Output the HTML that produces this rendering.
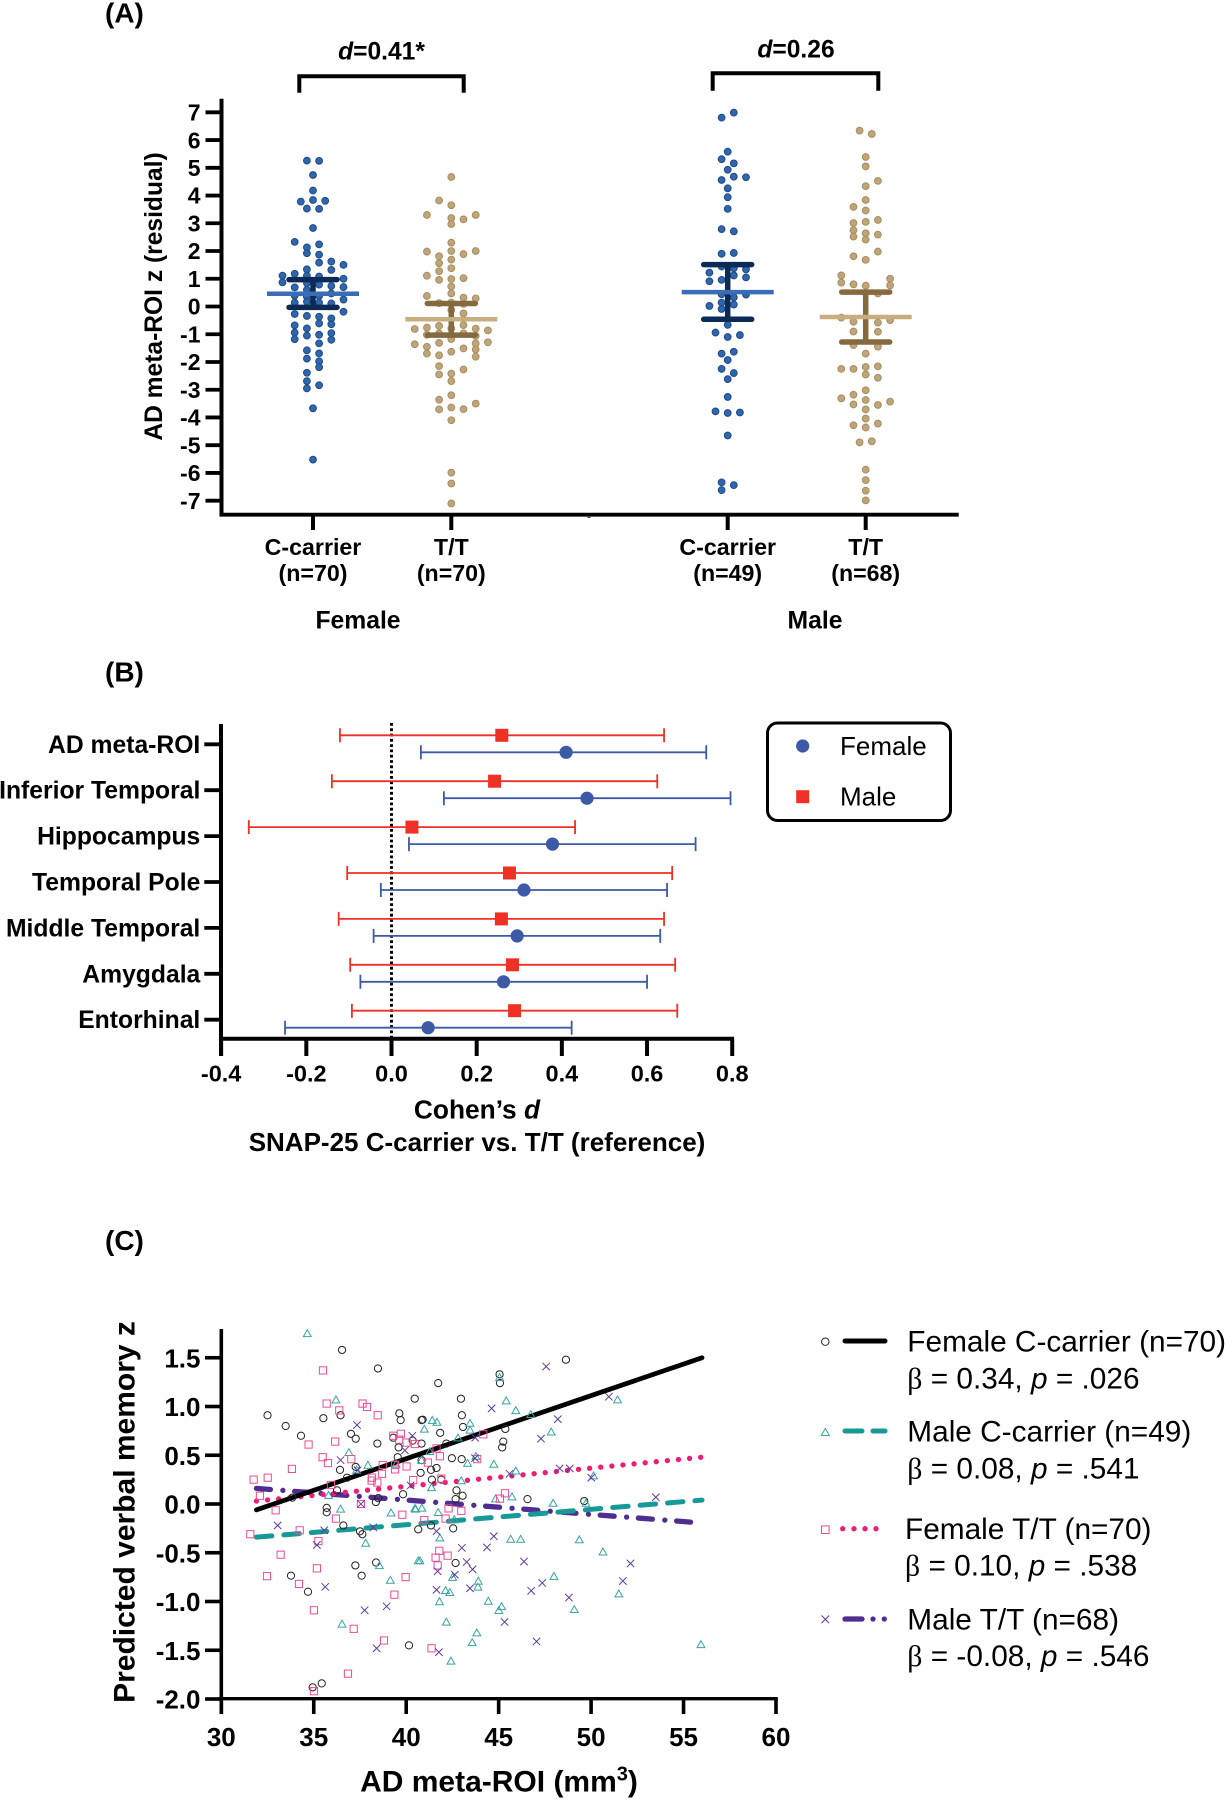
<!DOCTYPE html>
<html lang="en">
<head>
<meta charset="utf-8">
<title>SNAP-25 AD meta-ROI figure</title>
<style>
html,body{margin:0;padding:0;background:#fff;}
svg{display:block;font-family:"Liberation Sans",sans-serif;}
text{fill:#000;}
.b{font-weight:bold;}
</style>
</head>
<body>
<svg id="figure" xmlns="http://www.w3.org/2000/svg" width="1225" height="1800" viewBox="0 0 1225 1800">
  <rect width="1225" height="1800" fill="#fff"/>

  <g id="panelA"></g>
  <g id="panelB"></g>
  <g id="panelC"></g>

  <text class="b" x="105" y="22.5" font-size="28">(A)</text>
  <text class="b" x="105" y="681.5" font-size="28">(B)</text>
  <text class="b" x="105" y="1250" font-size="28">(C)</text>

  <text class="b" x="381.5" y="59.5" font-size="24.6" text-anchor="middle"><tspan font-style="italic">d</tspan>=0.41*</text>
  <text class="b" x="796" y="57.5" font-size="24.6" text-anchor="middle"><tspan font-style="italic">d</tspan>=0.26</text>
  <path d="M299.3 92.7V76.3H463.7V92.7" fill="none" stroke="#000" stroke-width="4"/>
  <path d="M712.7 90.7V73.3H878.3V90.7" fill="none" stroke="#000" stroke-width="4"/>
  <text class="b" transform="translate(162,296.5) rotate(-90)" font-size="24.6" text-anchor="middle">AD meta-ROI z (residual)</text>
  <text class="b" x="358" y="628.5" font-size="24.7" text-anchor="middle">Female</text>
  <text class="b" x="815" y="628.5" font-size="24.7" text-anchor="middle">Male</text>

  <text class="b" x="477" y="1118.5" font-size="26.3" text-anchor="middle">Cohen’s <tspan font-style="italic">d</tspan></text>
  <text class="b" x="477" y="1151" font-size="26" text-anchor="middle">SNAP-25 C-carrier vs. T/T (reference)</text>

  <g>
    <rect x="767.5" y="723" width="183" height="97.5" rx="10" ry="10" fill="#fff" stroke="#000" stroke-width="3"/>
    <circle cx="802.7" cy="746" r="6.6" fill="#3c5aa6"/>
    <rect x="796.2" y="790.2" width="13" height="13" fill="#ee3124"/>
    <text x="840" y="755" font-size="26">Female</text>
    <text x="840" y="805.5" font-size="26">Male</text>
  </g>

  <text class="b" transform="translate(134.5,1512) rotate(-90)" font-size="30" text-anchor="middle">Predicted verbal memory z</text>
  <text class="b" x="499" y="1791.5" font-size="30" text-anchor="middle">AD meta-ROI (mm<tspan font-size="20" dy="-11">3</tspan><tspan dy="11">)</tspan></text>

  <g>
    <circle cx="825.3" cy="1341.7" r="3.7" fill="none" stroke="#222" stroke-width="1"/>
    <path d="M845 1341H885" stroke="#000" stroke-width="5" stroke-linecap="round"/>
    <text x="907.3" y="1351.5" font-size="29.8">Female C-carrier (n=70)</text>
    <text x="907.3" y="1388.3" font-size="29.8"><tspan font-family="Liberation Serif">β</tspan> = 0.34, <tspan font-style="italic">p</tspan> = .026</text>

    <path d="M825.3 1428.5L829.3 1435.5H821.3Z" fill="none" stroke="#3aa3a3" stroke-width="1"/>
    <path d="M845 1431H862M873 1431H885" stroke="#179a97" stroke-width="5" stroke-linecap="round"/>
    <text x="907.3" y="1441.7" font-size="29.8">Male C-carrier (n=49)</text>
    <text x="907.3" y="1478.3" font-size="29.8"><tspan font-family="Liberation Serif">β</tspan> = 0.08, <tspan font-style="italic">p</tspan> = .541</text>

    <rect x="821.5" y="1525.9" width="7.6" height="7.6" fill="none" stroke="#ec4b94" stroke-width="1"/>
    <path d="M842.7 1528.7h.01M854 1528.7h.01M865 1528.7h.01M876 1528.7h.01" stroke="#ee1c74" stroke-width="5.3" stroke-linecap="round"/>
    <text x="905" y="1539" font-size="29.8">Female T/T (n=70)</text>
    <text x="905" y="1575.7" font-size="29.8"><tspan font-family="Liberation Serif">β</tspan> = 0.10, <tspan font-style="italic">p</tspan> = .538</text>

    <path d="M821.5 1615.5l7.6 7.6m0 -7.6l-7.6 7.6" fill="none" stroke="#5f3a9f" stroke-width="1"/>
    <path d="M845 1619H862M873 1619h.01M884.3 1619h.01" stroke="#4f2d91" stroke-width="5.3" stroke-linecap="round"/>
    <text x="907.3" y="1629.3" font-size="29.8">Male T/T (n=68)</text>
    <text x="907.3" y="1666" font-size="29.8"><tspan font-family="Liberation Serif">β</tspan> = -0.08, <tspan font-style="italic">p</tspan> = .546</text>
  </g>
</svg>

<script>
/* ---------- Panel A data ---------- */
const panelATicks = [7,6,5,4,3,2,1,0,-1,-2,-3,-4,-5,-6,-7];
const groupNames = ["C-carrier","T/T","C-carrier","T/T"];
const groupCounts = ["(n=70)","(n=70)","(n=49)","(n=68)"];
const groupMeans = [0.46,-0.46,0.52,-0.38];
const groupCiHigh = [0.97,0.11,1.51,0.52];
const groupCiLow = [-0.03,-1.03,-0.46,-1.28];

const femaleCarrierValues = [5.26,5.25,4.74,4.18,3.78,3.84,3.81,3.53,3.52,2.83,2.33,2.24,2.13,1.92,1.87,1.62,1.50,1.58,1.34,1.32,1.18,1.11,1.11,1.08,1.00,0.87,0.84,0.79,0.69,0.74,0.70,0.47,0.60,0.39,0.35,0.38,0.25,0.17,0.14,0.11,0.14,-0.19,-0.27,-0.34,-0.37,-0.43,-0.61,-0.64,-0.68,-0.79,-0.94,-0.96,-1.05,-1.02,-1.18,-1.20,-1.33,-1.58,-1.69,-1.88,-1.98,-2.19,-2.39,-2.69,-2.95,-2.84,-3.67,-5.52];
const femaleCarrierColumns = [-1,1,0,0,-2,0,2,-1,1,0,-3,1,-1,-1,1,3,5,1,-1,3,-3,-1,-5,1,5,-5,-1,1,-3,3,5,3,-1,-3,-1,1,5,-1,1,3,-3,5,-3,-1,1,3,1,3,-3,-1,-3,3,-1,1,-3,3,1,-1,1,-1,1,1,-1,-1,-1,1,0,0];

const femaleTtValues = [4.67,3.82,3.65,3.30,3.30,3.19,3.14,2.97,2.30,1.98,2.00,2.00,1.89,1.81,1.69,1.56,1.38,1.27,1.11,1.02,0.99,0.96,0.72,0.47,0.38,0.32,0.29,0.14,0.09,0.12,-0.25,-0.13,-0.70,-0.76,-0.67,-0.80,-0.81,-0.86,-0.79,-1.02,-0.97,-0.97,-1.06,-1.17,-1.31,-1.33,-1.29,-1.36,-1.45,-1.51,-1.55,-1.63,-1.70,-1.76,-1.81,-2.15,-2.27,-2.45,-2.42,-2.69,-3.20,-3.36,-3.50,-3.64,-3.71,-3.70,-4.10,-5.99,-6.38,-7.10];
const femaleTtColumns = [0,-2,0,-4,4,0,2,0,0,-4,0,4,2,-2,0,-2,0,-2,-4,2,0,-2,0,0,-4,2,4,0,2,-2,2,0,-2,-4,2,4,-6,6,0,-4,-2,2,4,0,-2,4,6,-6,-4,2,4,0,-4,-2,4,-2,2,-2,0,0,0,-2,4,0,-2,2,0,0,0,0];

const maleCarrierValues = [6.99,6.81,5.58,5.31,5.16,4.93,4.68,4.66,4.56,4.26,3.94,3.52,2.79,2.71,1.90,1.93,1.44,1.38,1.34,1.22,1.12,1.05,0.91,0.96,0.44,0.33,0.43,0.14,-0.09,0.07,0.02,-0.66,-0.94,-1.03,-1.10,-1.63,-1.70,-1.93,-2.25,-2.40,-2.62,-3.26,-3.78,-3.84,-3.82,-4.65,-6.34,-6.44,-6.62];
const maleCarrierColumns = [1,-1,0,-1,1,0,1,3,-1,0,0,0,-1,1,-1,1,-1,1,3,-3,1,3,-3,-1,-1,1,3,-1,-1,1,-3,0,-2,2,0,1,-1,0,-1,1,0,0,-2,0,2,0,-1,1,-1];

const maleTtValues = [6.34,6.22,5.39,5.05,4.53,4.34,3.84,3.59,3.46,3.12,3.05,3.01,2.75,2.64,2.59,2.52,2.41,1.98,1.81,1.68,1.12,1.00,0.86,0.76,0.80,0.75,0.47,-0.40,-0.49,-0.55,-0.58,-0.90,-0.91,-1.39,-1.45,-1.70,-2.16,-2.25,-2.25,-2.18,-2.45,-2.57,-3.02,-3.18,-3.31,-3.37,-3.43,-3.53,-3.55,-3.71,-4.04,-4.28,-4.22,-4.36,-4.90,-4.86,-5.88,-6.26,-6.64,-6.99];
const maleTtColumns = [-1,1,0,0,2,0,0,-2,0,2,0,-2,-2,0,2,-2,0,2,-2,0,-4,4,-4,4,-2,0,2,-4,4,-2,2,-2,2,-2,2,0,2,-4,-2,0,0,2,0,-2,-4,0,4,-2,2,0,0,-2,2,0,-1,1,0,0,0,0];

/* ---------- Panel B data ---------- */
const regionNames = ["AD meta-ROI","Inferior Temporal","Hippocampus","Temporal Pole","Middle Temporal","Amygdala","Entorhinal"];
const panelBTicks = [-0.4,-0.2,0,0.2,0.4,0.6,0.8];
const maleEffect = [0.259,0.242,0.048,0.277,0.258,0.284,0.289];
const maleLow = [-0.121,-0.140,-0.335,-0.104,-0.124,-0.097,-0.093];
const maleHigh = [0.640,0.624,0.431,0.659,0.640,0.666,0.671];
const femaleEffect = [0.410,0.459,0.378,0.311,0.295,0.263,0.086];
const femaleLow = [0.069,0.123,0.041,-0.025,-0.042,-0.073,-0.250];
const femaleHigh = [0.739,0.796,0.714,0.647,0.631,0.600,0.423];

/* ---------- Panel C data ---------- */
const panelCYTicks = [1.5,1,0.5,0,-0.5,-1,-1.5,-2];
const panelCXTicks = [30,35,40,45,50,55,60];

const femaleCarrierRoi = [32.5,33.48,34.31,36.53,38.47,35.52,36.45,37.01,37.27,38.44,40.46,39.63,39.70,40.83,39.30,40.35,39.59,39.54,40.83,40.78,37.27,36.42,36.80,36.26,39.83,33.84,38.36,38.49,35.70,35.70,36.60,37.50,37.63,40.65,37.25,38.37,37.59,33.77,34.69,40.15,35.43,34.94,48.64,45.05,45.07,41.73,42.96,43.01,40.89,43.07,45.36,41.84,42.17,45.25,45.19,42.47,43.00,40.83,41.64,41.34,41.39,41.90,42.72,43.05,42.67,46.56,49.63,41.34,42.54,42.67];
const femaleCarrierMemory = [0.91,0.80,0.70,1.58,1.39,0.88,0.91,0.72,0.67,0.62,1.08,0.93,0.86,0.86,0.68,0.65,0.58,0.48,0.62,0.32,0.38,0.35,0.27,0.14,0.10,0.065,0.02,0.06,-0.04,-0.085,-0.22,-0.28,-0.31,-0.26,-0.63,-0.60,-0.735,-0.735,-0.90,-1.45,-1.84,-1.88,1.48,1.33,1.24,1.24,1.08,0.91,0.865,0.79,0.77,0.73,0.62,0.64,0.58,0.47,0.46,0.45,0.37,0.35,0.25,0.25,0.14,0.085,0.05,0.05,0.03,-0.22,-0.25,-0.605];

const femaleTtRoi = [35.50,35.70,36.38,37.64,37.88,38.46,34.72,36.16,35.48,35.77,37.03,33.82,32.51,31.75,39.30,39.71,39.62,40.02,40.47,38.73,39.40,39.40,40.02,38.69,38.15,38.13,38.44,40.38,35.93,32.09,37.55,32.94,31.57,34.24,36.20,39.79,35.25,33.21,35.17,32.47,34.20,39.97,39.36,35.01,37.16,38.80,36.85,35.01,44.17,41.64,41.82,41.17,41.90,43.84,45.34,45.07,42.29,42.98,40.98,42.13,41.79,42.24,41.59,41.70,41.37];
const femaleTtMemory = [1.37,1.03,0.96,1.03,0.995,0.91,0.61,0.64,0.48,0.42,0.46,0.36,0.27,0.25,0.70,0.72,0.66,0.63,0.615,0.40,0.40,0.355,0.385,0.31,0.27,0.24,0.22,0.245,0.195,0.085,0.0,-0.065,-0.31,-0.27,-0.15,-0.11,-0.38,-0.52,-0.66,-0.74,-0.82,-0.75,-0.93,-1.09,-1.28,-1.40,-1.74,-1.92,0.715,0.57,0.49,0.425,0.26,0.46,0.11,0.055,-0.045,-0.07,-0.165,-0.15,-0.48,-0.53,-0.55,-0.63,-1.48];

const maleCarrierRoi = [34.65,36.20,36.90,37.93,37.32,39.45,35.80,36.45,39.18,40.51,37.81,38.55,39.14,36.53,40.65,45.05,45.41,45.93,46.74,41.41,41.66,43.45,40.98,43.45,42.80,47.84,51.43,41.28,43.77,40.83,43.32,44.74,45.93,50.13,42.98,41.37,45.72,44.83,47.95,49.72,40.47,40.85,41.73,42.60,41.82,45.65,46.19,49.36,50.64,40.74,47.99,42.51,43.90,43.88,42.13,42.36,51.50,41.80,44.44,45.16,45.01,49.09,42.17,43.82,43.57,55.94,42.42];
const maleCarrierMemory = [1.75,1.07,0.53,0.40,0.35,0.41,0.09,-0.05,-0.09,-0.05,-0.40,-0.63,-0.78,-1.23,-0.58,1.30,1.06,0.96,0.92,0.86,0.84,0.83,0.77,0.76,0.68,0.74,1.07,0.54,0.49,0.45,0.42,0.41,0.34,0.29,0.24,0.17,0.075,0.055,0.01,0.01,-0.045,-0.04,-0.085,-0.16,-0.345,-0.36,-0.36,-0.365,-0.49,-0.58,-0.74,-0.75,-0.79,-0.85,-0.885,-0.905,-0.92,-1.0,-0.995,-1.05,-1.09,-1.08,-1.21,-1.32,-1.42,-1.44,-1.61];

const maleTtRoi = [37.34,36.45,40.33,39.93,37.37,40.24,37.55,33.05,35.57,35.17,38.22,35.62,37.75,38.94,38.40,47.57,50.96,44.62,48.20,47.29,43.73,43.72,45.59,48.30,48.85,50.01,53.50,41.64,44.74,43.01,44.37,46.37,52.13,43.27,43.59,42.63,41.70,47.36,51.72,41.64,43.45,46.76,48.80,45.32,47.05,41.77];
const maleTtMemory = [0.81,0.45,0.70,0.55,0.345,0.19,0.0,-0.22,-0.27,-0.42,-0.24,-0.85,-1.09,-1.05,-1.48,1.41,1.10,0.98,0.87,0.67,0.68,0.47,0.31,0.365,0.365,0.27,0.07,-0.28,-0.33,-0.45,-0.445,-0.59,-0.61,-0.595,-0.67,-0.725,-0.69,-0.81,-0.79,-0.88,-0.865,-0.89,-0.96,-1.21,-1.41,-1.52];

/* Regression endpoints: [x start, x end] and [y start, y end] */
const fitRoi = [31.9,56];
const fitFemaleCarrier = [-0.06,1.50];
const fitMaleCarrier = [-0.34,0.04];
const fitFemaleTt = [0.03,0.48];
const fitMaleTt = [0.16,-0.195];

/* ---------- helpers ---------- */
const NS = "http://www.w3.org/2000/svg";
function mk(parent, tag, attrs, txt) {
  const el = document.createElementNS(NS, tag);
  for (const k in attrs) el.setAttribute(k, attrs[k]);
  if (txt !== undefined) el.textContent = txt;
  parent.appendChild(el);
  return el;
}
const fmt1 = v => v.toFixed(1);

/* ---------- Panel A ---------- */
const A = document.getElementById("panelA");
const yA = v => 306.5 - 27.74 * v;
const groupCenters = [313, 451.3, 727.7, 865.7];
const COLUMN_STEP = 6.1;
const swarmStyles = [
  {fill:"#2f66ae", stroke:"#1f4a85", mean:"#3a6db5", ci:"#0b2a55"},
  {fill:"#bfa578", stroke:"#a58e63", mean:"#c8ad7f", ci:"#85693f"},
  {fill:"#2f66ae", stroke:"#1f4a85", mean:"#3a6db5", ci:"#0b2a55"},
  {fill:"#bfa578", stroke:"#a58e63", mean:"#c8ad7f", ci:"#85693f"}
];
const swarmValues = [femaleCarrierValues, femaleTtValues, maleCarrierValues, maleTtValues];
const swarmColumns = [femaleCarrierColumns, femaleTtColumns, maleCarrierColumns, maleTtColumns];

swarmValues.forEach((vals, g) => {
  vals.forEach((v, i) => {
    const dot = mk(A, "circle", {cx: groupCenters[g] + swarmColumns[g][i] * COLUMN_STEP, cy: yA(v), r: 3.4, fill: swarmStyles[g].fill, stroke: swarmStyles[g].stroke, "stroke-width": 1});
    
    
  });
  const cx = groupCenters[g];
  const st = swarmStyles[g];
  const stem = mk(A, "line", {x1: cx, x2: cx, y1: yA(groupCiHigh[g]), y2: yA(groupCiLow[g]), stroke: st.ci, "stroke-width": 5.5});
  
  
  const capHi = mk(A, "line", {x1: cx - 24, x2: cx + 24, y1: yA(groupCiHigh[g]), y2: yA(groupCiHigh[g]), stroke: st.ci, "stroke-width": 5.5, "stroke-linecap": "round"});
  
  
  const capLo = mk(A, "line", {x1: cx - 24, x2: cx + 24, y1: yA(groupCiLow[g]), y2: yA(groupCiLow[g]), stroke: st.ci, "stroke-width": 5.5, "stroke-linecap": "round"});
  
  
  const meanBar = mk(A, "line", {x1: cx - 46, x2: cx + 46, y1: yA(groupMeans[g]), y2: yA(groupMeans[g]), stroke: st.mean, "stroke-width": 4.5});
  
  

  const tick = mk(A, "line", {x1: cx, x2: cx, y1: 514.7, y2: 530, stroke: "#000", "stroke-width": 4});
  
  
  const lab1 = mk(A, "text", {x: cx, y: 555, "font-size": 23.2, "font-weight": "bold", "text-anchor": "middle"}, groupNames[g]);
  
  
  const lab2 = mk(A, "text", {x: cx, y: 581, "font-size": 23.2, "font-weight": "bold", "text-anchor": "middle"}, groupCounts[g]);
  
  
});

panelATicks.forEach(t => {
  const tick = mk(A, "line", {x1: 205.5, x2: 222, y1: yA(t), y2: yA(t), stroke: "#000", "stroke-width": 3.8});
  
  
  const lab = mk(A, "text", {x: 200.5, y: yA(t) + 8.2, "font-size": 23, "font-weight": "bold", "text-anchor": "end"}, String(t));
  
  
});
const yAxisA = mk(A, "line", {x1: 221.5, x2: 221.5, y1: 98.7, y2: 516.5, stroke: "#000", "stroke-width": 4});


const xAxisA = mk(A, "line", {x1: 219.5, x2: 958.7, y1: 514.7, y2: 514.7, stroke: "#000", "stroke-width": 3.8});


const axisGap = mk(A, "line", {x1: 589, x2: 589, y1: 516, y2: 518, stroke: "#444", "stroke-width": 3});



/* ---------- Panel B ---------- */
const B = document.getElementById("panelB");
const xB = v => 391.5 + 425.9 * v;
const rowY = i => 744.3 + 45.9 * i;
const MALE_OFFSET = -9;
const FEMALE_OFFSET = 8;

const zeroLine = mk(B, "line", {x1: xB(0), x2: xB(0), y1: 723, y2: 1037, stroke: "#000", "stroke-width": 3, "stroke-dasharray": "2.8 2.5"});



function forestRow(lo, hi, pt, y, color, isMale) {
  const seg = mk(B, "path", {d: "M" + xB(lo) + " " + (y - 7) + "v14M" + xB(lo) + " " + y + "H" + xB(hi) + "M" + xB(hi) + " " + (y - 7) + "v14", fill: "none", stroke: color, "stroke-width": 1.8});
  
  
  if (isMale) {
    const m = mk(B, "rect", {x: xB(pt) - 6.5, y: y - 6.5, width: 13, height: 13, fill: color});
    
    
  } else {
    const m = mk(B, "circle", {cx: xB(pt), cy: y, r: 6.6, fill: color});
    
    
  }
}
regionNames.forEach((name, i) => {
  forestRow(maleLow[i], maleHigh[i], maleEffect[i], rowY(i) + MALE_OFFSET, "#ee3124", true);
  forestRow(femaleLow[i], femaleHigh[i], femaleEffect[i], rowY(i) + FEMALE_OFFSET, "#3c5aa6", false);
  const tick = mk(B, "line", {x1: 204.3, x2: 221, y1: rowY(i), y2: rowY(i), stroke: "#000", "stroke-width": 3.8});
  
  
  const lab = mk(B, "text", {x: 200.3, y: rowY(i) + 8.5, "font-size": 24.7, "font-weight": "bold", "text-anchor": "end"}, name);
  
  
});
panelBTicks.forEach(t => {
  const tick = mk(B, "line", {x1: xB(t), x2: xB(t), y1: 1038.7, y2: 1056, stroke: "#000", "stroke-width": 4});
  
  
  const lab = mk(B, "text", {x: xB(t), y: 1081.5, "font-size": 23.5, "font-weight": "bold", "text-anchor": "middle"}, fmt1(t));
  
  
});
const yAxisB = mk(B, "line", {x1: 221, x2: 221, y1: 724, y2: 1056, stroke: "#000", "stroke-width": 4});


const xAxisB = mk(B, "line", {x1: 219, x2: 734, y1: 1038.7, y2: 1038.7, stroke: "#000", "stroke-width": 4});



/* ---------- Panel C ---------- */
const C = document.getElementById("panelC");
const xC = v => 221.3 + 18.49 * (v - 30);
const yC = v => 1504 - 97.5 * v;

function fitLine(ys, color, width, dash, name) {
  const ln = mk(C, "line", {x1: xC(fitRoi[0]), x2: xC(fitRoi[1]), y1: yC(ys[0]), y2: yC(ys[1]), stroke: color, "stroke-width": width, "stroke-linecap": "round"});
  if (dash) ln.setAttribute("stroke-dasharray", dash);
  
  
}
fitLine(fitMaleTt, "#4f2d91", 5.3, "14 12.5 0.01 11.8", "fit-line-male-tt");
fitLine(fitFemaleTt, "#ee1c74", 5.3, "0.01 11.15", "fit-line-female-tt");
fitLine(fitMaleCarrier, "#179a97", 5, "15.5 12", "fit-line-male-carrier");
fitLine(fitFemaleCarrier, "#000", 4.8, null, "fit-line-female-carrier");

femaleCarrierRoi.forEach((v, i) => {
  const m = mk(C, "circle", {cx: xC(v), cy: yC(femaleCarrierMemory[i]), r: 3.6, fill: "none", stroke: "#222", "stroke-width": 1});
  
  
});
maleCarrierRoi.forEach((v, i) => {
  const x = xC(v), y = yC(maleCarrierMemory[i]);
  const m = mk(C, "path", {d: "M" + x + " " + (y - 3.7) + "L" + (x + 3.9) + " " + (y + 3.2) + "H" + (x - 3.9) + "Z", fill: "none", stroke: "#3aa3a3", "stroke-width": 1});
  
  
});
femaleTtRoi.forEach((v, i) => {
  const m = mk(C, "rect", {x: xC(v) - 3.6, y: yC(femaleTtMemory[i]) - 3.6, width: 7.2, height: 7.2, fill: "none", stroke: "#ec4b94", "stroke-width": 1});
  
  
});
maleTtRoi.forEach((v, i) => {
  const x = xC(v), y = yC(maleTtMemory[i]);
  const m = mk(C, "path", {d: "M" + (x - 3.7) + " " + (y - 3.7) + "l7.4 7.4m0 -7.4l-7.4 7.4", fill: "none", stroke: "#5f3a9f", "stroke-width": 1});
  
  
});

panelCYTicks.forEach(t => {
  const tick = mk(C, "line", {x1: 205, x2: 221, y1: yC(t), y2: yC(t), stroke: "#000", "stroke-width": 3.6});
  
  
  const lab = mk(C, "text", {x: 200.5, y: yC(t) + 9.5, "font-size": 26, "font-weight": "bold", "text-anchor": "end"}, fmt1(t));
  
  
});
panelCXTicks.forEach(t => {
  const tick = mk(C, "line", {x1: xC(t), x2: xC(t), y1: 1698.7, y2: 1714, stroke: "#000", "stroke-width": 3.6});
  
  
  const lab = mk(C, "text", {x: xC(t), y: 1746, "font-size": 26, "font-weight": "bold", "text-anchor": "middle"}, String(t));
  
  
});
const yAxisC = mk(C, "line", {x1: 221.3, x2: 221.3, y1: 1329, y2: 1714, stroke: "#000", "stroke-width": 3.6});


const xAxisC = mk(C, "line", {x1: 219.5, x2: 777.8, y1: 1698.7, y2: 1698.7, stroke: "#000", "stroke-width": 3.4});


</script>
</body>
</html>
